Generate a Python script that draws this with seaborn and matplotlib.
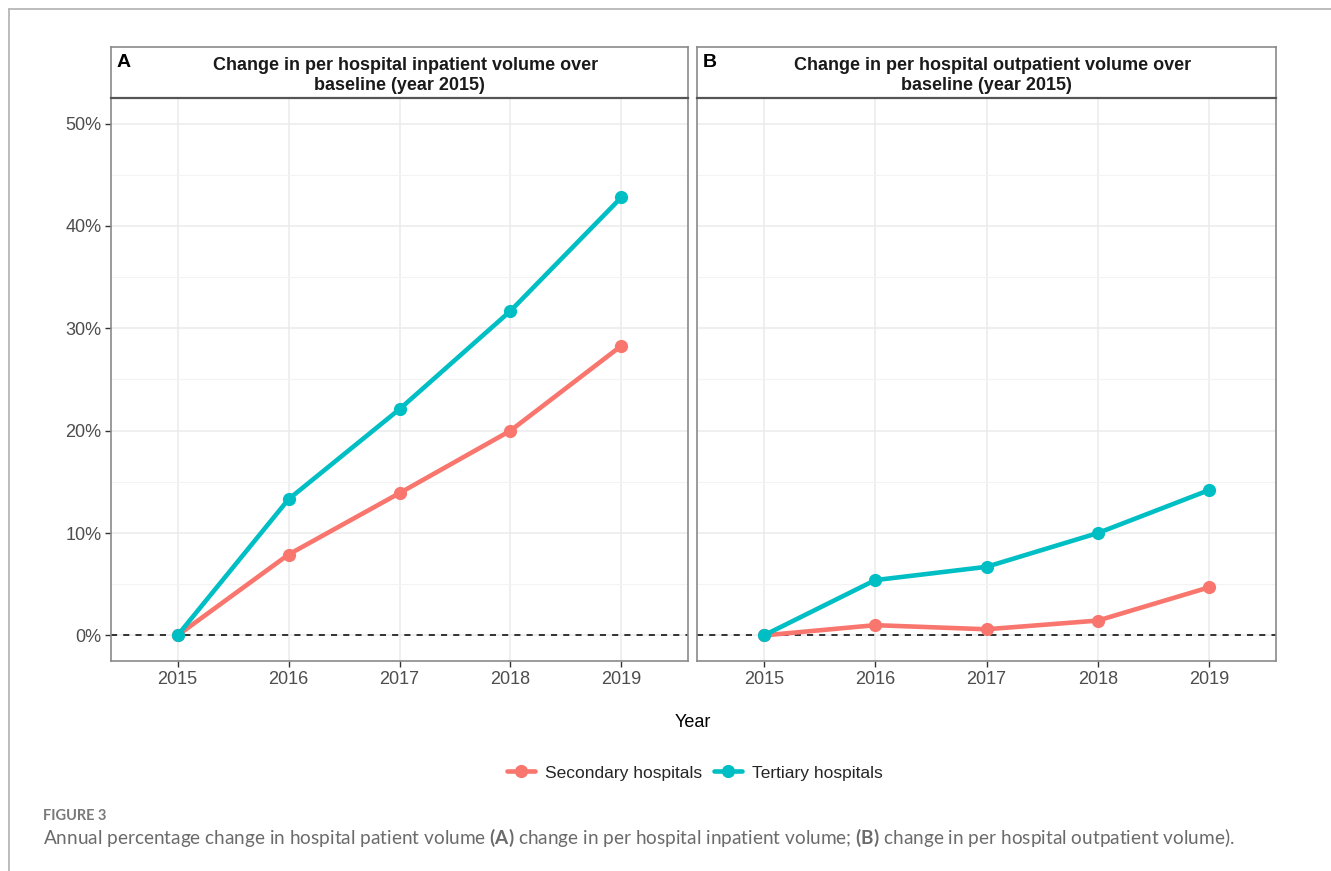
import matplotlib
matplotlib.use("Agg")
import matplotlib.pyplot as plt
from matplotlib.lines import Line2D
from matplotlib.ticker import FuncFormatter, MultipleLocator
import pandas as pd
import seaborn as sns

years = [2015, 2016, 2017, 2018, 2019]
groups = ["Secondary hospitals", "Tertiary hospitals"]

# Percentage change over the 2015 baseline
inpatient_secondary = [0.0, 7.9, 13.9, 20.0, 28.3]
inpatient_tertiary = [0.0, 13.3, 22.1, 31.7, 42.8]
outpatient_secondary = [0.0, 1.0, 0.6, 1.45, 4.7]
outpatient_tertiary = [0.0, 5.4, 6.7, 10.0, 14.2]

panel_letters = ["A", "B"]
panel_titles = [
    ("Change in per hospital inpatient volume over ", "baseline (year 2015)"),
    ("Change in per hospital outpatient volume over ", "baseline (year 2015)"),
]
y_ticks = [0, 10, 20, 30, 40, 50]

palette = {"Secondary hospitals": "#F8766D", "Tertiary hospitals": "#00BFC4"}


def long_frame(sec, ter):
    return pd.DataFrame({
        "Year": years * 2,
        "Change": list(sec) + list(ter),
        "Group": [groups[0]] * len(years) + [groups[1]] * len(years),
    })


frames = [long_frame(inpatient_secondary, inpatient_tertiary),
          long_frame(outpatient_secondary, outpatient_tertiary)]

sns.set_theme(style="white")
plt.rcParams["font.family"] = ["Liberation Sans", "DejaVu Sans"]
plt.rcParams["mathtext.fontset"] = "custom"
plt.rcParams["mathtext.rm"] = "Lato"
plt.rcParams["mathtext.bf"] = "Lato:bold"

W, H = 1331, 871
fig = plt.figure(figsize=(W / 100, H / 100), dpi=100)


def fx(px):
    return px / W


def fy(py):
    return 1 - py / H


panel_x = [(111, 688), (697, 1276)]
plot_top, plot_bottom, strip_top = 98, 661, 47
border_col = "#8a8a8a"

for i, (x0, x1) in enumerate(panel_x):
    ax = fig.add_axes([fx(x0), fy(plot_bottom), fx(x1 - x0), fy(plot_top) - fy(plot_bottom)])
    ax.set_xlim(2014.4, 2019.6)
    ax.set_ylim(-2.5, 52.5)
    ax.set_xticks(years)
    ax.set_yticks(y_ticks)
    ax.yaxis.set_minor_locator(MultipleLocator(5))
    ax.grid(True, which="major", color="#EBEBEB", linewidth=1.1)
    ax.grid(True, which="minor", axis="y", color="#F3F3F3", linewidth=0.8)
    ax.set_axisbelow(True)
    for s in ax.spines.values():
        s.set_color(border_col)
        s.set_linewidth(1.2)

    ax.axhline(0, color="black", linestyle=(0, (4, 4)), linewidth=1.1, zorder=1)

    sns.lineplot(data=frames[i], x="Year", y="Change", hue="Group", palette=palette,
                 hue_order=groups, marker="o", markersize=9.5, markeredgewidth=0,
                 linewidth=3.3, legend=False, ax=ax, zorder=3)

    ax.set_xlabel("")
    ax.set_ylabel("")
    ax.tick_params(axis="both", which="major", length=4, width=1, color="#333333",
                   labelsize=13, labelcolor="#4D4D4D", pad=3,
                   bottom=True, left=(i == 0))
    ax.tick_params(axis="both", which="minor", length=0)
    if i == 0:
        ax.yaxis.set_major_formatter(FuncFormatter(lambda v, p: f"{v:.0f}%"))
    else:
        ax.set_yticklabels([])

    # facet strip
    sx = fig.add_axes([fx(x0), fy(plot_top), fx(x1 - x0), fy(strip_top) - fy(plot_top)])
    sx.set_xticks([])
    sx.set_yticks([])
    sx.set_facecolor("white")
    for s in sx.spines.values():
        s.set_color(border_col)
        s.set_linewidth(1.2)
    sx.spines["bottom"].set_color("#555555")
    sx.spines["bottom"].set_linewidth(1.6)
    cx = (x0 + x1) / 2
    line1, line2 = panel_titles[i]
    fig.text(fx(cx + 9), fy(65), line1, ha="center", va="center",
             fontsize=13, fontweight="bold", color="#1A1A1A")
    fig.text(fx(cx), fy(85), line2, ha="center", va="center",
             fontsize=13, fontweight="bold", color="#1A1A1A")
    fig.text(fx(x0 + 6), fy(62.5), panel_letters[i], ha="left", va="center",
             fontsize=14, fontweight="bold", color="black")

fig.text(fx(693), fy(722), "Year", ha="center", va="center", fontsize=13, color="black")

handles = [Line2D([0], [0], color=palette[g], linewidth=3.3, marker="o", markersize=9.5,
                  markeredgewidth=0) for g in groups]
fig.legend(handles, groups, loc="center", bbox_to_anchor=(fx(695), fy(773)), ncol=2,
           frameon=False, fontsize=12.5, handlelength=1.6, handletextpad=0.6,
           columnspacing=0.7)

# page frame lines
fig.add_artist(Line2D([fx(9), 1], [fy(9), fy(9)], color="#b0b0b0", linewidth=1.2))
fig.add_artist(Line2D([fx(9), fx(9)], [fy(9), 0], color="#b0b0b0", linewidth=1.2))

cap_font = ["Lato", "DejaVu Sans"]
fig.text(fx(43), fy(816), "FIGURE 3", ha="left", va="center", fontsize=10.5,
         fontweight="bold", color="#7a7a7a", family=cap_font)
fig.text(fx(43), fy(838),
         "Annual percentage change in hospital patient volume $\\mathbf{(A)}$ change in per hospital "
         "inpatient volume; $\\mathbf{(B)}$ change in per hospital outpatient volume).",
         ha="left", va="center", fontsize=13.7, color="#6b6b6b", family=cap_font)

fig.savefig("out.png", dpi=100, facecolor="white")
